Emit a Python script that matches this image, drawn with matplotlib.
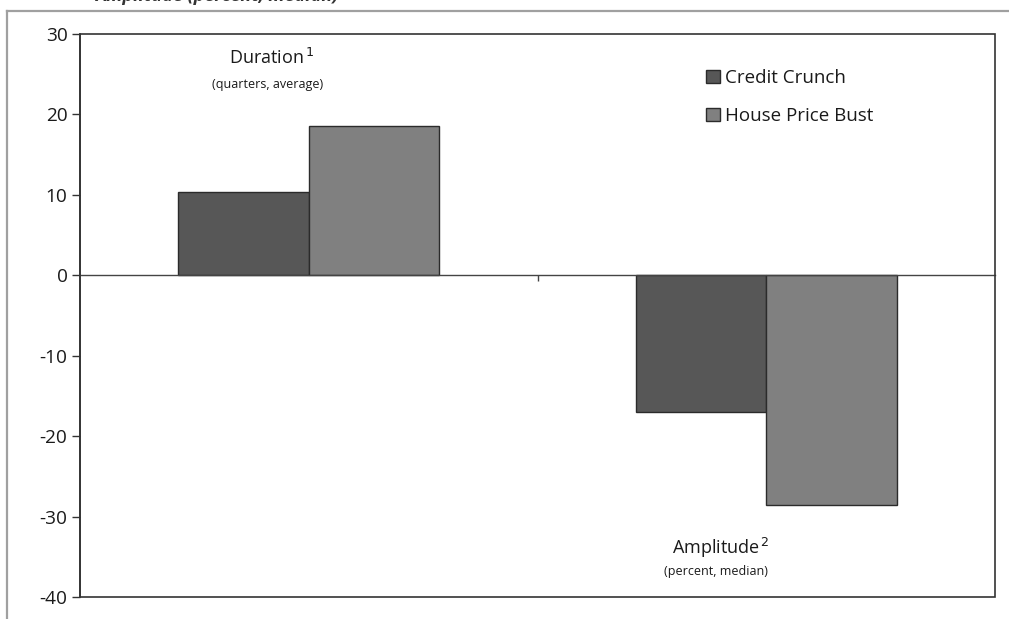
import matplotlib
matplotlib.use("Agg")
import matplotlib.pyplot as plt
from matplotlib.patches import Patch, Rectangle
from matplotlib.lines import Line2D
import numpy as np

plt.rcParams['font.family'] = ['Open Sans', 'DejaVu Sans']

# Data
groups = ["Duration", "Amplitude"]
series_names = ["Credit Crunch", "House Price Bust"]
credit_crunch = [10.3, -17.0]
house_price_bust = [18.5, -28.5]
y_ticks = [-40, -30, -20, -10, 0, 10, 20, 30]

colors = ["#575757", "#808080"]
edge = "#2b2b2b"

W, H = 1009, 619
fig = plt.figure(figsize=(W / 100, H / 100), dpi=100)
ax = fig.add_axes([80 / W, 1 - 597 / H, (995 - 80) / W, (597 - 34) / H])

x = np.arange(len(groups))
bw = 0.2857
ax.bar(x - bw / 2, credit_crunch, width=bw, color=colors[0], edgecolor=edge, linewidth=1.0, zorder=2)
ax.bar(x + bw / 2, house_price_bust, width=bw, color=colors[1], edgecolor=edge, linewidth=1.0, zorder=2)

ax.set_xlim(-0.5, 1.5)
ax.set_ylim(-40, 30)
ax.set_yticks(y_ticks)
ax.set_yticklabels([str(v) for v in y_ticks])

# Category axis runs through zero; plot area gets its own border
for s in ["top", "right"]:
    ax.spines[s].set_visible(False)
ax.spines["bottom"].set_position(("data", 0))
ax.spines["bottom"].set_color("#444444")
ax.spines["bottom"].set_linewidth(1.0)
ax.spines["left"].set_color("#333333")
ax.spines["left"].set_linewidth(1.2)
ax.add_patch(Rectangle((0, 0), 1, 1, transform=ax.transAxes, fill=False,
                       edgecolor="#333333", linewidth=1.2, zorder=3, clip_on=False))

ax.set_xticks([0.5])
ax.set_xticklabels([""])
ax.tick_params(axis="x", direction="out", length=4, width=1, color="#444444")
ax.tick_params(axis="y", direction="out", length=6, width=1, color="#333333",
               labelsize=13.7, labelcolor="#1a1a1a", pad=3)

# Group annotations
ax.text(-0.08, 26.3, "Duration$^{\\,1}$", ha="center", va="baseline", fontsize=13, color="#1a1a1a")
ax.text(-0.09, 23.3, "(quarters, average)", ha="center", va="baseline", fontsize=9, color="#1a1a1a")
ax.text(0.9, -34.6, "Amplitude$^{\\,2}$", ha="center", va="baseline", fontsize=13, color="#1a1a1a")
ax.text(0.89, -37.3, "(percent, median)", ha="center", va="baseline", fontsize=9, color="#1a1a1a")

handles = [Patch(facecolor=colors[0], edgecolor=edge, linewidth=1.0),
           Patch(facecolor=colors[1], edgecolor=edge, linewidth=1.0)]
fig.legend(handles, series_names, loc="upper left", bbox_to_anchor=(697 / W, 1 - 60 / H),
           frameon=False, fontsize=13.5, handlelength=0.7, handleheight=0.7,
           handletextpad=0.3, labelspacing=1.05, borderpad=0, labelcolor="#1a1a1a")

# Outer frame and clipped heading
fig.add_artist(Line2D([7 / W, 7 / W], [0, 1 - 11 / H], color="#a0a0a0", linewidth=1.6))
fig.add_artist(Line2D([7 / W, 1], [1 - 11 / H, 1 - 11 / H], color="#a0a0a0", linewidth=1.6))
fig.text(95 / W, 1 - 1 / H, "Amplitude (percent, median)", fontsize=13, style="italic",
         weight="bold", color="#333333", va="baseline", ha="left")

fig.savefig("out.png", dpi=100, facecolor="white")
